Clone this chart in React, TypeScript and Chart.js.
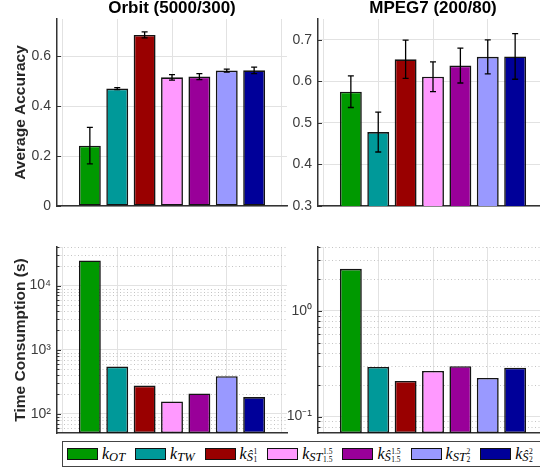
import React, { useEffect, useRef } from 'react';
import { Chart, registerables } from 'chart.js';

Chart.register(...registerables);

// ---------- data ----------
const categories = [1, 2, 3, 4, 5, 6, 7];
const barColors = ['#009900', '#009999', '#990000', '#ff99ff', '#990099', '#9999ff', '#000099'];

const orbitAccuracy = [0.242, 0.471, 0.686, 0.516, 0.519, 0.543, 0.544];
const orbitAccuracyErr = [0.073, 0.004, 0.012, 0.011, 0.012, 0.006, 0.013];
const mpegAccuracy = [0.575, 0.478, 0.653, 0.611, 0.638, 0.659, 0.660];
const mpegAccuracyErr = [0.038, 0.048, 0.046, 0.036, 0.042, 0.041, 0.055];

const orbitTime = [24700, 545, 275, 155, 207, 386, 182];
const mpegTime = [2.49, 0.294, 0.217, 0.27, 0.299, 0.232, 0.29];

const orbitAccTicks = [0, 0.2, 0.4, 0.6];
const orbitAccLabels = ['0', '0.2', '0.4', '0.6'];
const mpegAccTicks = [0.3, 0.4, 0.5, 0.6, 0.7];
const mpegAccLabels = ['0.3', '0.4', '0.5', '0.6', '0.7'];

const orbitTimeTicks = [100, 1000, 10000];
const orbitTimeLabels = ['10²', '10³', '10⁴'];
const orbitTimeMinor = [60, 70, 80, 90, 200, 300, 400, 500, 600, 700, 800, 900,
  2000, 3000, 4000, 5000, 6000, 7000, 8000, 9000, 20000, 30000, 40000];
const mpegTimeTicks = [0.1, 1];
const mpegTimeLabels = ['10⁻¹', '10⁰'];
const mpegTimeMinor = [0.08, 0.09, 0.2, 0.3, 0.4, 0.5, 0.6, 0.7, 0.8, 0.9, 2, 3, 4];

const xGridTicks = [0, 2, 4, 6, 8];

const legendItems = [
  { sub: 'OT' },
  { sub: 'TW' },
  { sub: 'Ŝ', ss: '1', sp: '1' },
  { sub: 'ST', ss: '1.5', sp: '1.5' },
  { sub: 'Ŝ', ss: '1.5', sp: '1.5' },
  { sub: 'ST', ss: '2', sp: '2' },
  { sub: 'Ŝ', ss: '2', sp: '2' },
];

// ---------- plugins ----------
const errorBarPlugin = {
  id: 'errorBars',
  afterDatasetsDraw(chart: any) {
    const ds = chart.data.datasets[0];
    const errs = ds.errors;
    if (!errs) return;
    const meta = chart.getDatasetMeta(0);
    const y = chart.scales.y;
    const ctx = chart.ctx;
    ctx.save();
    ctx.strokeStyle = '#000';
    ctx.lineWidth = 1.3;
    meta.data.forEach((bar: any, i: number) => {
      const v = ds.data[i].y;
      const e = errs[i];
      const x = bar.x;
      const yt = y.getPixelForValue(v + e);
      const yb = y.getPixelForValue(v - e);
      ctx.beginPath();
      ctx.moveTo(x, yt); ctx.lineTo(x, yb);
      ctx.moveTo(x - 3, yt); ctx.lineTo(x + 3, yt);
      ctx.moveTo(x - 3, yb); ctx.lineTo(x + 3, yb);
      ctx.stroke();
    });
    ctx.restore();
  },
};

function makeAxisDecor(majors: number[], minors: number[]) {
  return {
    id: 'axisDecor',
    beforeDatasetsDraw(chart: any) {
      const { ctx, chartArea: a } = chart;
      const y = chart.scales.y;
      ctx.save();
      ctx.strokeStyle = '#c4c4c4';
      ctx.lineWidth = 1;
      ctx.setLineDash([1, 2.5]);
      minors.forEach((v) => {
        const py = Math.round(y.getPixelForValue(v)) + 0.5;
        if (py < a.top || py > a.bottom) return;
        ctx.beginPath();
        ctx.moveTo(a.left, py);
        ctx.lineTo(a.right, py);
        ctx.stroke();
      });
      ctx.restore();
    },
    afterDraw(chart: any) {
      const { ctx, chartArea: a } = chart;
      const y = chart.scales.y;
      ctx.save();
      ctx.strokeStyle = '#333';
      ctx.lineWidth = 1;
      const tick = (v: number, len: number) => {
        const py = Math.round(y.getPixelForValue(v)) + 0.5;
        if (py < a.top - 0.5 || py > a.bottom + 0.5) return;
        ctx.beginPath();
        ctx.moveTo(a.left, py);
        ctx.lineTo(a.left + len, py);
        ctx.stroke();
      };
      majors.forEach((v) => tick(v, 4));
      minors.forEach((v) => tick(v, 2.5));
      ctx.restore();
    },
  };
}

// ---------- config ----------
interface PanelOpts {
  values: number[];
  errors?: number[];
  log: boolean;
  yMin: number;
  yMax: number;
  ticks: number[];
  labels: string[];
  minor: number[];
  title?: string;
  yTitle?: string;
  yWidth: number;
  padRight: number;
  padTop: number;
}

function makeConfig(o: PanelOpts): any {
  return {
    type: 'bar',
    data: {
      datasets: [
        {
          data: categories.map((c, i) => ({ x: c, y: o.values[i] })),
          errors: o.errors,
          backgroundColor: barColors,
          borderColor: '#141414',
          borderWidth: 1.6,
          borderSkipped: false,
          barPercentage: 0.8,
          categoryPercentage: 1,
        },
      ],
    },
    options: {
      animation: false,
      responsive: false,
      events: [],
      layout: { padding: { left: 0, right: o.padRight, top: o.padTop, bottom: 0 } },
      plugins: {
        legend: { display: false },
        tooltip: { enabled: false },
        title: {
          display: !!o.title,
          text: o.title,
          fullSize: false,
          color: '#000',
          font: { family: '"Liberation Sans", Arial, sans-serif', size: 17, weight: 'bold', lineHeight: 1 },
          padding: { top: 0, bottom: 2 },
        },
      },
      scales: {
        x: {
          type: 'linear',
          min: -0.2,
          max: 8.2,
          offset: false,
          afterBuildTicks: (s: any) => { s.ticks = xGridTicks.map((v) => ({ value: v })); },
          afterFit: (s: any) => {
            s.height = 9;
            s.paddingLeft = 0; s.paddingRight = 0; s.paddingTop = 0; s.paddingBottom = 0;
          },
          ticks: { display: false },
          grid: { color: '#e2e2e2', lineWidth: 1, drawTicks: false, offset: false },
          border: { color: '#333', width: 1.5 },
        },
        y: {
          type: o.log ? 'logarithmic' : 'linear',
          min: o.yMin,
          max: o.yMax,
          afterBuildTicks: (s: any) => { s.ticks = o.ticks.map((v) => ({ value: v })); },
          afterFit: (s: any) => {
            s.width = o.yWidth;
            s.paddingLeft = 0; s.paddingRight = 0; s.paddingTop = 0; s.paddingBottom = 0;
          },
          ticks: {
            autoSkip: false,
            padding: 6,
            color: '#3c3c3c',
            font: { family: '"Liberation Sans", Arial, sans-serif', size: 14 },
            callback: (v: number) => {
              const i = o.ticks.findIndex((t) => Math.abs(t - v) < 1e-9 * Math.max(1, Math.abs(t)));
              return i >= 0 ? o.labels[i] : '';
            },
          },
          grid: { color: '#e2e2e2', lineWidth: 1, drawTicks: false },
          border: { color: '#333', width: 1.5 },
          title: {
            display: !!o.yTitle,
            text: o.yTitle,
            color: '#262626',
            font: { family: '"Liberation Sans", Arial, sans-serif', size: 15.5, weight: 'bold' },
            padding: { top: 11, bottom: 0 },
          },
        },
      },
    },
    plugins: [makeAxisDecor(o.ticks, o.minor), errorBarPlugin],
  };
}

function Panel(props: { left: number; top: number; width: number; height: number; opts: PanelOpts }) {
  const ref = useRef<HTMLCanvasElement | null>(null);
  useEffect(() => {
    if (!ref.current) return;
    const chart = new Chart(ref.current, makeConfig(props.opts));
    return () => chart.destroy();
  }, []);
  return (
    <canvas
      ref={ref}
      width={props.width}
      height={props.height}
      style={{ position: 'absolute', left: props.left, top: props.top, width: props.width, height: props.height }}
    />
  );
}

function LegendLabel({ item }: { item: { sub: string; ss?: string; sp?: string } }) {
  return (
    <span
      style={{
        fontFamily: '"Liberation Serif", "DejaVu Serif", serif',
        fontStyle: 'italic',
        fontSize: 16,
        whiteSpace: 'nowrap',
        display: 'inline-flex',
        alignItems: 'flex-start',
        lineHeight: 1,
        color: '#000',
      }}
    >
      <span>k</span>
      <span style={{ fontSize: 12.5, position: 'relative', top: 5 }}>{item.sub}</span>
      {item.ss ? (
        <span
          style={{
            display: 'inline-flex',
            flexDirection: 'column',
            fontSize: 7.5,
            fontStyle: 'normal',
            lineHeight: 1,
            position: 'relative',
            top: 2,
            marginLeft: 0.5,
          }}
        >
          <span>{item.sp}</span>
          <span>{item.ss}</span>
        </span>
      ) : null}
    </span>
  );
}

export default function App() {
  return (
    <div
      style={{
        position: 'absolute',
        left: 0,
        top: 0,
        width: 540,
        height: 472,
        overflow: 'hidden',
        background: '#fff',
      }}
    >
      <Panel
        left={0}
        top={0}
        width={290}
        height={215}
        opts={{
          values: orbitAccuracy,
          errors: orbitAccuracyErr,
          log: false,
          yMin: 0,
          yMax: 0.75,
          ticks: orbitAccTicks,
          labels: orbitAccLabels,
          minor: [],
          title: 'Orbit (5000/300)',
          yTitle: 'Average Accuracy',
          yWidth: 57,
          padRight: 3,
          padTop: 0,
        }}
      />
      <Panel
        left={287}
        top={0}
        width={275}
        height={215}
        opts={{
          values: mpegAccuracy,
          errors: mpegAccuracyErr,
          log: false,
          yMin: 0.3,
          yMax: 0.75,
          ticks: mpegAccTicks,
          labels: mpegAccLabels,
          minor: [],
          title: 'MPEG7 (200/80)',
          yWidth: 31,
          padRight: 14,
          padTop: 0,
        }}
      />
      <Panel
        left={0}
        top={232}
        width={290}
        height={210}
        opts={{
          values: orbitTime,
          log: true,
          yMin: 50,
          yMax: 40000,
          ticks: orbitTimeTicks,
          labels: orbitTimeLabels,
          minor: orbitTimeMinor,
          yTitle: 'Time Consumption (s)',
          yWidth: 57,
          padRight: 3,
          padTop: 15,
        }}
      />
      <Panel
        left={287}
        top={232}
        width={275}
        height={210}
        opts={{
          values: mpegTime,
          log: true,
          yMin: 0.07,
          yMax: 4,
          ticks: mpegTimeTicks,
          labels: mpegTimeLabels,
          minor: mpegTimeMinor,
          yWidth: 31,
          padRight: 14,
          padTop: 15,
        }}
      />
      <div
        style={{
          position: 'absolute',
          left: 62,
          top: 441,
          width: 500,
          height: 24,
          border: '1.5px solid #444',
          background: '#fff',
          display: 'flex',
          alignItems: 'center',
          paddingLeft: 4,
          boxSizing: 'content-box',
        }}
      >
        {legendItems.map((it, i) => (
          <div key={i} style={{ display: 'flex', alignItems: 'center', marginRight: 10 }}>
            <div
              style={{
                width: 29,
                height: 10,
                background: barColors[i],
                border: '1.5px solid #111',
                marginRight: 4,
              }}
            />
            <LegendLabel item={it} />
          </div>
        ))}
      </div>
    </div>
  );
}
